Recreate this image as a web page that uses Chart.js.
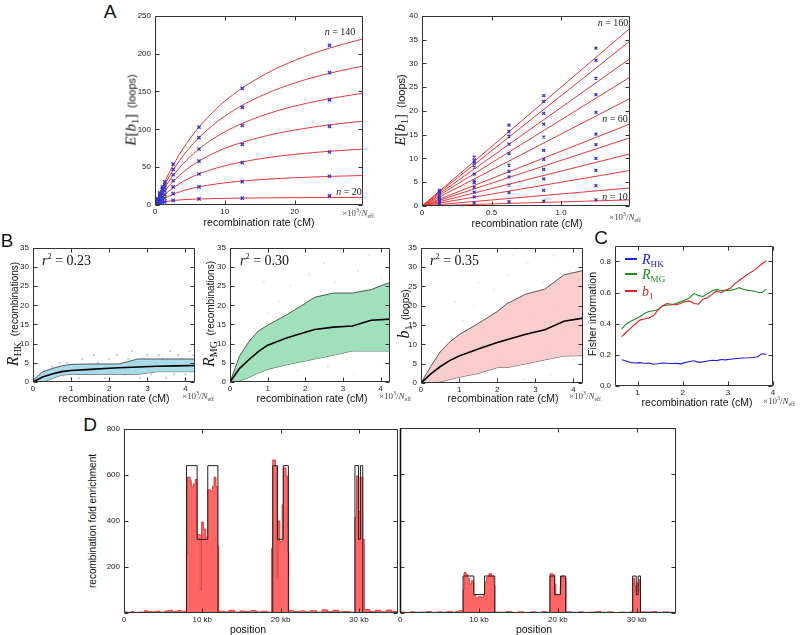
<!DOCTYPE html>
<html><head><meta charset="utf-8">
<script src="https://cdn.jsdelivr.net/npm/chart.js@4.4.1/dist/chart.umd.min.js"></script>
<style>
html,body{margin:0;padding:0;background:#fff;}
#fig{position:relative;width:800px;height:635px;overflow:hidden;background:#fff;}
.lbl{position:absolute;white-space:nowrap;font-family:'Liberation Sans',Arial,sans-serif;color:#111;line-height:1;z-index:5;}
.m{font-family:'Liberation Serif',serif;font-style:italic;}
.r{font-family:'Liberation Serif',serif;}
.panel{position:absolute;}
sub,sup{line-height:0;font-size:65%;}
</style></head><body><div id="fig"></div>
<script>
// ---------- DATA ----------
// Panel A (left): fitted curves and simulated points, n = 20..140
const aLeftN = [20, 40, 60, 80, 100, 120, 140];
const aLeftCurveX = [0, 1, 2, 4, 6, 9, 12, 16, 20, 25, 30];
const aLeftCurveY = [
  [0, 3.4, 5.2, 7.0, 7.9, 8.6, 9.1, 9.4, 9.7, 9.9, 10.0],
  [0, 6.7, 11.7, 18.8, 23.4, 28.1, 31.2, 34.1, 36.0, 37.8, 39.0],
  [0, 10.3, 18.5, 31.0, 39.9, 49.4, 56.0, 62.4, 66.9, 71.0, 74.0],
  [0, 13.8, 25.2, 43.1, 56.3, 70.9, 81.4, 91.6, 99.0, 105.9, 111.0],
  [0, 17.0, 31.4, 54.3, 71.7, 91.4, 105.8, 120.1, 130.7, 140.5, 148.0],
  [0, 19.9, 37.0, 64.7, 86.2, 110.7, 129.1, 147.4, 161.2, 174.1, 184.0],
  [0, 22.5, 42.1, 74.2, 99.6, 129.0, 151.3, 173.9, 191.0, 207.3, 219.9]
];
const aLeftPtX = [0.35, 0.7, 1.05, 1.4, 2.6, 6.3, 12.5, 25];
const aLeftPtY = [
  [1.5, 2.6, 3.5, 4.2, 6, 8, 9, 12],
  [2.6, 4.9, 7.0, 8.9, 15, 24, 31, 38],
  [3.9, 7.4, 10.7, 13.8, 24, 41, 56, 70],
  [5.1, 9.9, 14.4, 18.6, 32, 58, 80, 104],
  [6.3, 12.2, 17.8, 23.0, 40, 74, 105, 139],
  [7.4, 14.3, 20.9, 27.1, 47, 89, 129, 175],
  [8.3, 16.1, 23.6, 30.7, 54, 103, 154, 211]
];
// Panel A (right): n = 10..160
const aRightN = [10, 20, 30, 40, 50, 60, 80, 100, 120, 140, 160];
const aRightLineX = [0, 1.5];
const aRightLineEnd = [1.3, 3.8, 7.5, 11.0, 14.4, 17.3, 22.7, 27.2, 31.1, 34.8, 37.5];
const aRightPtX = [0.125, 0.375, 0.625, 0.875, 1.25];
const aRightPtY = [
  [0.2, 0.7, 0.9, 1.0, 1.3],
  [0.6, 1.9, 2.8, 3.3, 4.3],
  [0.9, 2.9, 4.4, 5.7, 7.5],
  [1.2, 3.9, 6.1, 7.7, 10.0],
  [1.5, 4.9, 7.3, 9.8, 12.9],
  [1.8, 5.3, 8.6, 11.7, 15.1],
  [2.2, 6.7, 11.0, 14.5, 19.7],
  [2.6, 8.2, 13.0, 17.2, 23.4],
  [2.9, 9.0, 14.7, 19.5, 26.9],
  [3.1, 9.6, 15.7, 22.0, 30.6],
  [3.3, 10.3, 17.0, 23.2, 33.2]
];
// Panel B: quantile bands (upper, median, lower)
const bX = [0, 0.25, 0.5, 0.75, 1.0, 1.5, 2.0, 2.25, 2.75, 3.25, 3.75, 4.25];
const hkUpper = [0.5, 2.6, 3.5, 4.2, 4.6, 4.7, 4.7, 4.7, 6.0, 6.0, 6.0, 6.0];
const hkMedian = [0, 1.3, 2.1, 2.7, 3.0, 3.3, 3.6, 3.7, 3.9, 4.1, 4.2, 4.3];
const hkLower = [0, 0, 0.9, 1.8, 2.0, 2.0, 2.0, 2.0, 2.0, 2.7, 2.7, 2.7];
const mgUpper = [0, 6.7, 10.5, 13.3, 14.8, 17.5, 20.5, 22.1, 23.2, 23.2, 24.1, 26.0];
const mgMedian = [0, 3.5, 5.8, 7.9, 9.6, 11.5, 13.0, 13.7, 14.3, 14.6, 16.1, 16.4];
const mgLower = [0, 0.3, 1.2, 2.3, 3.3, 4.5, 5.5, 6.0, 7.0, 8.1, 8.1, 8.1];
const b1Upper = [0, 4.2, 8.0, 10.6, 12.5, 15.4, 18.5, 20.5, 23.0, 24.3, 28.0, 29.1];
const b1Median = [0, 2.3, 4.2, 5.8, 7.0, 8.8, 10.5, 11.2, 12.6, 13.8, 16.0, 16.8];
const b1Lower = [0, 0, 0.3, 0.9, 1.5, 2.5, 4.0, 4.0, 5.0, 6.0, 7.0, 7.1];
const bR2 = ['0.23', '0.30', '0.35'];
// Panel B: faint simulated samples
const hkDots = [[0.1,1],[0.2,2],[0.3,3],[0.4,1],[0.5,4],[0.6,3],[0.7,5],[0.8,2],[0.9,5],[1.0,1],[1.1,4],[1.3,6],[1.5,2],[1.6,7],[1.7,5],[1.9,1],[2.0,6],[2.2,7],[2.3,3],[2.5,6],[2.6,8],[2.8,1],[2.9,6],[3.0,7],[3.1,2],[3.3,7],[3.4,6],[3.5,1],[3.6,8],[3.7,2],[3.8,7],[3.9,6],[4.0,2],[4.1,8],[4.2,7],[1.2,1],[2.4,2],[3.2,5],[4.0,5],[0.3,2]];
const mgDots = [[0.2,2],[0.4,6],[0.5,10],[0.7,14],[0.8,4],[1.0,18],[1.1,8],[1.3,21],[1.5,12],[1.6,25],[1.8,3],[1.9,17],[2.1,28],[2.2,9],[2.4,22],[2.5,31],[2.7,14],[2.8,26],[3.0,34],[3.1,6],[3.2,19],[3.4,29],[3.5,11],[3.6,24],[3.7,33],[3.9,16],[4.0,27],[4.1,5],[4.2,21],[1.2,30],[2.0,33],[0.9,26],[3.3,2],[2.6,4],[4.1,33]];
const b1Dots = [[0.2,1],[0.3,5],[0.5,8],[0.6,2],[0.8,12],[1.0,4],[1.1,16],[1.3,9],[1.4,20],[1.6,3],[1.7,14],[1.9,24],[2.0,7],[2.2,18],[2.3,28],[2.5,11],[2.6,22],[2.8,31],[2.9,5],[3.0,17],[3.2,26],[3.3,9],[3.5,33],[3.6,20],[3.8,13],[3.9,29],[4.0,6],[4.1,24],[4.2,34],[1.5,26],[2.4,33],[0.9,21],[3.4,2],[2.7,1],[4.0,15]];
// Panel C: Fisher information
const cX = [0.65,0.75,0.85,0.95,1.05,1.15,1.25,1.35,1.45,1.55,1.65,1.75,1.85,1.95,2.05,2.15,2.25,2.35,2.45,2.55,2.65,2.75,2.85,2.95,3.05,3.15,3.25,3.35,3.45,3.55,3.65,3.75,3.85];
const cHK = [0.168,0.160,0.150,0.148,0.150,0.146,0.147,0.140,0.143,0.148,0.146,0.144,0.145,0.142,0.150,0.157,0.162,0.152,0.155,0.160,0.165,0.163,0.170,0.168,0.172,0.175,0.178,0.180,0.181,0.183,0.186,0.207,0.203];
const cMG = [0.366,0.398,0.415,0.430,0.445,0.465,0.478,0.483,0.489,0.514,0.518,0.522,0.530,0.540,0.552,0.565,0.595,0.580,0.575,0.593,0.610,0.620,0.612,0.614,0.614,0.620,0.631,0.620,0.614,0.610,0.603,0.599,0.620];
const cB1 = [0.317,0.345,0.372,0.398,0.423,0.430,0.436,0.451,0.487,0.514,0.529,0.525,0.521,0.529,0.542,0.546,0.529,0.525,0.557,0.567,0.588,0.610,0.599,0.614,0.627,0.656,0.677,0.698,0.720,0.736,0.758,0.783,0.804];
// Panel D: recombination fold enrichment histograms (value holds from edge to next edge, kb)
const dLeftEdges = [0,0.4,0.9,1.3,1.8,2.6,3.0,3.5,4.1,4.6,5.2,5.7,6.2,6.8,7.3,7.8,7.98,8.1,8.45,8.6,8.85,9.1,9.34,9.75,9.9,10.15,10.45,10.7,11.05,11.3,11.5,11.75,11.95,12.1,12.8,13.4,14.1,14.8,15.5,16.2,16.9,17.6,18.3,18.85,19.0,19.35,19.55,19.65,19.9,20.2,20.35,20.7,20.9,21.05,21.7,22.4,23.1,23.8,24.6,25.3,26.0,26.7,27.4,28.1,28.8,29.5,29.7,29.95,30.15,30.5,30.7,31.4,32.1,32.8,33.5,34.2,35];
const dLeftVals  = [5,3,6,2,4,10,7,5,8,4,9,12,6,11,8,5,255,590,575,550,560,580,340,100,395,365,330,535,530,550,590,550,290,8,5,12,4,9,6,11,5,8,4,280,665,640,150,400,310,470,630,595,265,10,6,9,5,10,4,14,6,12,5,7,4,415,595,440,590,320,15,6,12,5,13,6,6];
const dRightEdges = [0,0.6,1.2,1.9,2.5,3.3,4.0,4.7,5.3,6.0,6.6,7.0,7.4,7.98,8.1,8.35,8.6,8.8,9.05,9.34,9.6,9.95,10.3,10.55,10.7,10.95,11.25,11.6,11.85,12.02,12.7,13.4,14.2,15.0,15.7,16.5,17.2,18.0,18.6,19.0,19.35,19.6,19.75,20.3,20.45,20.8,21.05,21.8,22.6,23.3,24.1,24.8,25.5,26.3,27.0,27.8,28.5,29.2,29.5,29.75,29.95,30.15,30.3,30.5,31.2,31.9,32.6,33.3,34.0,34.6,35];
const dRightVals  = [4,2,5,3,4,6,3,5,4,7,3,6,10,100,175,165,150,125,140,75,65,72,68,80,135,155,170,160,120,4,3,6,3,5,2,5,3,6,3,170,165,125,75,115,160,150,5,3,5,3,4,6,3,5,2,4,3,5,150,115,130,95,145,5,4,6,3,5,4,3,3];
const dMapEdges = [0,7.98,9.34,10.7,12.0,19.0,19.6,20.34,21.0,29.5,29.95,30.2,30.5,35];
const dMapLeft  = [0,640,320,640,0,640,320,640,0,640,320,640,0,0];
const dMapRight = [0,160,80,160,0,160,80,160,0,160,80,160,0,0];

// ---------- SETUP ----------
const fig = document.getElementById('fig');
Chart.defaults.font.family = "'Liberation Sans', Arial, sans-serif";
Chart.defaults.font.size = 8;
Chart.defaults.color = '#222';
Chart.defaults.animation = false;

const framePlugin = {
  id: 'frame',
  defaults: {color: '#333', tick: 4, leftWidth: 1, leftColor: '#333'},
  afterDatasetsDraw(chart, args, o) {
    const {ctx, chartArea: a, scales} = chart;
    ctx.save();
    ctx.strokeStyle = o.color; ctx.lineWidth = 1;
    ctx.beginPath();
    const L = Math.round(a.left) + 0.5, R = Math.round(a.right) - 0.5, T = Math.round(a.top) + 0.5, B = Math.round(a.bottom) - 0.5;
    ctx.moveTo(L, T); ctx.lineTo(R, T); ctx.lineTo(R, B); ctx.lineTo(L, B);
    const tl = o.tick;
    scales.x.ticks.forEach(t => {
      const px = Math.round(scales.x.getPixelForValue(t.value)) + 0.5;
      ctx.moveTo(px, B); ctx.lineTo(px, B - tl); ctx.moveTo(px, T); ctx.lineTo(px, T + tl);
    });
    scales.y.ticks.forEach(t => {
      const py = Math.round(scales.y.getPixelForValue(t.value)) + 0.5;
      ctx.moveTo(L, py); ctx.lineTo(L + tl, py); ctx.moveTo(R, py); ctx.lineTo(R - tl, py);
    });
    ctx.stroke();
    ctx.beginPath(); ctx.strokeStyle = o.leftColor; ctx.lineWidth = o.leftWidth;
    ctx.moveTo(L, T); ctx.lineTo(L, B); ctx.stroke();
    ctx.restore();
  }
};
Chart.register(framePlugin);

function panel(rect, pads, datasets, sx, sy, frameOpts) {
  const [L, T, R, B] = rect; const [pl, pt, pr, pb] = pads;
  const w = R - L + pl + pr, h = B - T + pt + pb;
  const div = document.createElement('div'); div.className = 'panel';
  div.style.left = (L - pl) + 'px'; div.style.top = (T - pt) + 'px';
  div.style.width = w + 'px'; div.style.height = h + 'px';
  const cv = document.createElement('canvas'); cv.width = w; cv.height = h;
  cv.style.width = w + 'px'; cv.style.height = h + 'px';
  div.appendChild(cv); fig.appendChild(div);
  return new Chart(cv, {
    type: 'line', data: {datasets},
    options: {
      responsive: false, animation: false, devicePixelRatio: 1,
      layout: {padding: {left: 0, top: pt, right: pr, bottom: 0}},
      plugins: {legend: {display: false}, tooltip: {enabled: false}, frame: frameOpts || {}},
      elements: {point: {radius: 0}},
      scales: {
        x: Object.assign({type: 'linear', grid: {display: false, drawTicks: false}, border: {display: false}, afterFit(s) { s.height = pb; }}, sx),
        y: Object.assign({type: 'linear', grid: {display: false, drawTicks: false}, border: {display: false}, afterFit(s) { s.width = pl; }}, sy)
      }
    }
  });
}
function label(html, x, y, o) {
  o = o || {};
  const d = document.createElement('div'); d.className = 'lbl';
  d.innerHTML = html;
  d.style.left = x + 'px'; d.style.top = y + 'px';
  d.style.fontSize = (o.size || 10) + 'px';
  if (o.color) d.style.color = o.color;
  let tr = o.anchor === 'l' ? 'translate(0,-50%)' : 'translate(-50%,-50%)';
  if (o.rot) tr += ' rotate(-90deg)';
  d.style.transform = tr;
  fig.appendChild(d);
}
const pts = (xs, ys) => xs.map((x, i) => ({x, y: ys[i]}));
const RED = '#e8393a', BLUE = '#3535c8';
const xt = (step, fmt) => ({stepSize: step, includeBounds: false, padding: 2, callback: fmt});
const yt = (step, fmt) => ({stepSize: step, includeBounds: false, padding: 4, callback: fmt});

// ---------- PANEL A ----------
const aLeftSets = [];
aLeftPtY.forEach(ys => aLeftSets.push({data: pts(aLeftPtX, ys), showLine: false, pointStyle: 'crossRot', pointRadius: 2.3, borderColor: BLUE, pointBorderWidth: 1.3, backgroundColor: BLUE}));
aLeftCurveY.forEach(ys => aLeftSets.push({data: pts(aLeftCurveX, ys), borderColor: RED, borderWidth: 1, pointRadius: 0, cubicInterpolationMode: 'monotone'}));
panel([155, 15, 363, 205], [26, 8, 8, 13], aLeftSets,
  {min: 0, max: 29.8, ticks: xt(10)},
  {min: 0, max: 250, ticks: yt(50)});

const aRightSets = [];
aRightPtY.forEach(ys => aRightSets.push({data: pts(aRightPtX, ys), showLine: false, pointStyle: 'crossRot', pointRadius: 2, borderColor: BLUE, pointBorderWidth: 1.3, backgroundColor: BLUE}));
aRightLineEnd.forEach(v => aRightSets.push({data: pts(aRightLineX, [0, v]), borderColor: RED, borderWidth: 1, pointRadius: 0}));
panel([422, 15, 630, 206], [22, 8, 8, 13], aRightSets,
  {min: 0, max: 1.495, ticks: xt(0.5, v => v === 0 ? '0' : v.toFixed(1))},
  {min: 0, max: 40, ticks: yt(5)});

// ---------- PANEL B ----------
function bandSets(dots, dotColor, up, med, lo, fillColor) {
  return [
    {data: pts(bX, med), borderColor: '#000', borderWidth: 1.6, pointRadius: 0},
    {data: pts(bX, up), borderColor: '#333', borderWidth: 0.8, pointRadius: 0, fill: '+1', backgroundColor: fillColor},
    {data: pts(bX, lo), borderColor: '#333', borderWidth: 0.8, pointRadius: 0},
    {data: dots.map(p => ({x: p[0], y: p[1]})), showLine: false, pointRadius: 1.1, pointBackgroundColor: dotColor, pointBorderWidth: 0}
  ];
}
const bTicksX = {min: 0, max: 4.25, ticks: xt(1)};
const bTicksY = {min: 0, max: 35, ticks: yt(5)};
panel([33, 247, 195, 382], [20, 8, 6, 13], bandSets(hkDots, 'rgba(80,80,220,0.35)', hkUpper, hkMedian, hkLower, 'rgba(160,215,232,0.9)'), bTicksX, bTicksY);
panel([230, 247, 390, 382], [20, 8, 6, 13], bandSets(mgDots, 'rgba(60,160,60,0.18)', mgUpper, mgMedian, mgLower, 'rgba(150,222,180,0.9)'), bTicksX, bTicksY);
panel([421, 247, 583, 383], [20, 8, 6, 13], bandSets(b1Dots, 'rgba(230,90,90,0.18)', b1Upper, b1Median, b1Lower, 'rgba(250,200,200,0.9)'), bTicksX, bTicksY);

// ---------- PANEL C ----------
panel([615, 245, 773, 386], [22, 8, 10, 13], [
  {data: pts(cX, cB1), borderColor: '#e02020', borderWidth: 1.1, pointRadius: 0},
  {data: pts(cX, cMG), borderColor: '#1f8a1f', borderWidth: 1.1, pointRadius: 0},
  {data: pts(cX, cHK), borderColor: '#2020d8', borderWidth: 1.1, pointRadius: 0}
], {min: 0.5, max: 4, ticks: xt(1)}, {min: 0, max: 0.9, ticks: yt(0.2, v => v.toFixed(1))});

// ---------- PANEL D ----------
const dXfmt = v => v === 0 ? '0' : v + ' kb';
panel([124, 428, 398, 613], [22, 8, 2, 13], [
  {data: pts(dMapEdges, dMapLeft), stepped: true, borderColor: '#222', borderWidth: 1, pointRadius: 0},
  {data: pts(dLeftEdges, dLeftVals), stepped: true, borderColor: '#c83030', borderWidth: 0.8, pointRadius: 0, fill: 'origin', backgroundColor: 'rgba(255,95,95,0.95)'}
], {min: 0, max: 35, ticks: xt(10, dXfmt)}, {min: 0, max: 800, ticks: yt(200, v => v === 0 ? '' : v)});
panel([400, 428, 676, 613], [4, 8, 8, 13], [
  {data: pts(dMapEdges, dMapRight), stepped: true, borderColor: '#222', borderWidth: 1, pointRadius: 0},
  {data: pts(dRightEdges, dRightVals), stepped: true, borderColor: '#c83030', borderWidth: 0.8, pointRadius: 0, fill: 'origin', backgroundColor: 'rgba(255,95,95,0.95)'}
], {min: 0, max: 35, ticks: xt(10, dXfmt)}, {min: 0, max: 800, ticks: Object.assign(yt(200), {display: false})}, {leftWidth: 1.6, leftColor: '#111'});

// ---------- TEXT ----------
const xTitle = 'recombination rate (cM)';
const neff = '<span class="r">×10<sup>3</sup>/<i>N</i><sub>eff</sub></span>';
const eb1 = '<span class="m" style="font-size:15px">E</span><span class="r" style="font-size:15px">[</span><span class="m" style="font-size:15px">b</span><sub class="r" style="font-size:10px">1</sub><span class="r" style="font-size:15px">]</span>&nbsp;&nbsp;(loops)';
label('A', 110, 11, {size: 19});
label('B', 7, 240, {size: 19});
label('C', 601, 237, {size: 19});
label('D', 90, 424, {size: 19});
// A
label(eb1, 131, 110, {size: 11, rot: true});
label(eb1, 400, 110, {size: 11, rot: true});
label(xTitle, 259, 222, {size: 10.5});
label(xTitle, 527, 223, {size: 10.5});
label(neff, 342, 213, {size: 9, anchor: 'l', color: '#444'});
label(neff, 609, 217, {size: 9, anchor: 'l', color: '#444'});
label('<i>n</i> = ' + aLeftN[aLeftN.length - 1], 340, 32, {size: 10, color: '#222'});
label('<i>n</i> = ' + aLeftN[0], 349, 192, {size: 10, color: '#222'});
label('<i>n</i> = ' + aRightN[aRightN.length - 1], 613, 23, {size: 10, color: '#222'});
label('<i>n</i> = ' + aRightN[5], 615, 119, {size: 10, color: '#222'});
label('<i>n</i> = ' + aRightN[0], 615, 197, {size: 10, color: '#222'});
document.querySelectorAll('.lbl').forEach(d => { if (d.innerHTML.startsWith('<i>n</i>')) d.classList.add('r'); });
// B
const rsub = s => '<span class="m" style="font-size:16px">R</span><sub class="r" style="font-size:10px">' + s + '</sub>&nbsp;&nbsp;(recombinations)';
label(rsub('HK'), 13, 314, {size: 10, rot: true});
label(rsub('MG'), 209, 314, {size: 10, rot: true});
label('<span class="m" style="font-size:16px">b</span><sub class="r" style="font-size:10px">1</sub>&nbsp;&nbsp;(loops)', 404, 314, {size: 10, rot: true});
[[114, 398], [312, 398], [503, 398]].forEach(p => label(xTitle, p[0], p[1], {size: 10.5}));
[[182, 396], [379, 396], [569, 396]].forEach(p => label(neff, p[0], p[1], {size: 9, anchor: 'l', color: '#444'}));
[[42, 260], [240, 260], [430, 260]].forEach((p, i) => label('<span class="r"><i>r</i><sup style="font-size:60%">2</sup> = ' + bR2[i] + '</span>', p[0], p[1], {size: 14, anchor: 'l'}));
// C
label('Fisher information', 592, 314, {size: 10.5, rot: true});
label(xTitle, 697, 402, {size: 10.5});
label(neff, 763, 401, {size: 9, anchor: 'l', color: '#444'});
[['#2020d8', '<span class="m">R</span><sub>HK</sub>', 259], ['#1f8a1f', '<span class="m">R</span><sub>MG</sub>', 274], ['#e02020', '<span class="m">b</span><sub>1</sub>', 291]].forEach(l => {
  const sw = document.createElement('div');
  sw.style.cssText = 'position:absolute;left:625px;top:' + (l[2] - 1) + 'px;width:12px;height:1.5px;background:' + l[0] + ';';
  fig.appendChild(sw);
  label('<span class="r">' + l[1] + '</span>', 642, l[2], {size: 14, anchor: 'l', color: l[0]});
});
// D
label('recombination fold enrichment', 93, 521, {size: 10, rot: true});
label('position', 248, 629, {size: 10.5});
label('position', 534, 629, {size: 10.5});
</script>
</body></html>
